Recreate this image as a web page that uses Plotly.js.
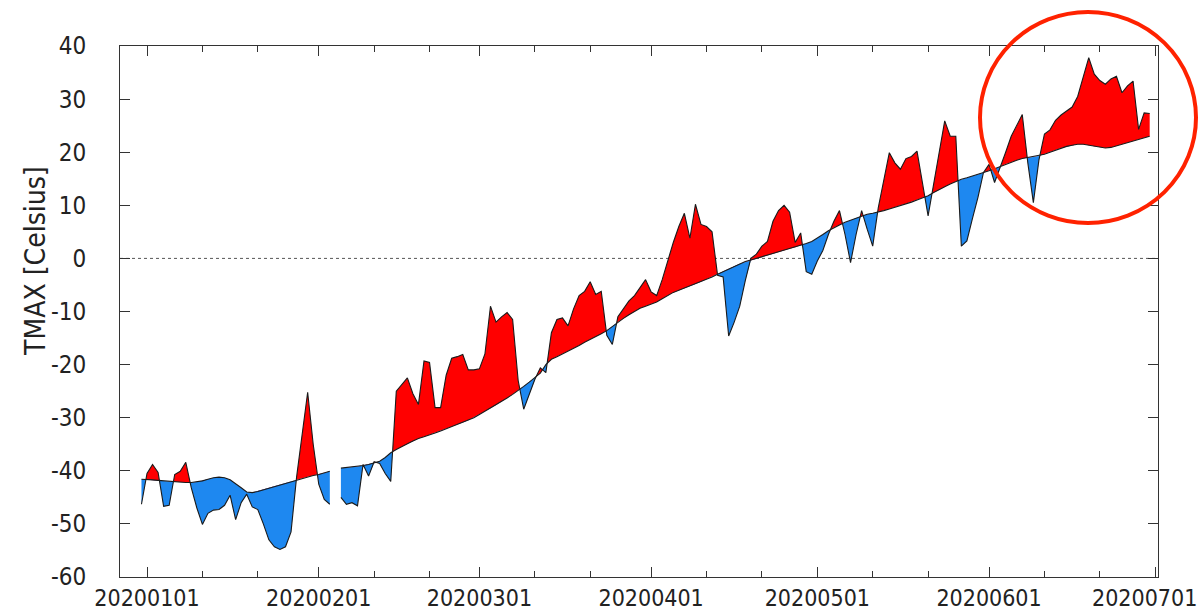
<!DOCTYPE html>
<html>
<head>
<meta charset="utf-8">
<script src="https://cdn.plot.ly/plotly-3.0.1.min.js"></script>
<style>html,body{margin:0;padding:0;background:#fff;}#chart{width:1200px;height:613px;}</style>
</head>
<body>
<div id="chart"></div>
<script>
// First day of the daily series (index 0 = 2019-12-31)
const startDate = '2019-12-31';

// Observed daily TMAX [Celsius], 2019-12-31 .. 2020-06-30 (null = missing)
const observed = [
 -46.3,
 -40.5,-38.8,-40.3,-46.7,-46.5,-40.7,-40.1,-38.4,-43.2,-47.0,
 -50.1,-48.0,-47.4,-47.3,-46.5,-44.6,-49.2,-46.0,-44.4,-46.8,
 -47.3,-50.0,-53.0,-54.3,-54.8,-54.3,-51.5,-41.2,-33.0,-25.2,
 -35.0,-42.5,-45.4,-46.3,null,-45.0,-46.3,-46.0,-46.6,-38.8,
 -41.0,-38.3,-38.6,-40.5,-42.0,-25.0,-23.8,-22.5,-25.5,-27.5,
 -19.3,-19.6,-28.1,-28.1,-22.0,-18.8,-18.5,-18.1,-21.0,-21.0,
 -20.8,-18.0,-9.0,-12.0,-11.0,-10.2,-11.5,-23.0,-28.4,-25.5,
 -22.8,-20.6,-21.5,-14.0,-11.5,-11.2,-12.7,-9.5,-7.0,-6.2,
 -4.4,-6.8,-6.2,-14.5,-16.2,-11.0,-9.5,-8.0,-7.0,-5.5,
 -4.0,-6.3,-7.0,-4.0,-0.5,3.0,6.0,8.5,3.8,10.2,
 6.4,6.0,5.0,-3.2,-3.5,-14.6,-12.0,-9.0,-4.2,0.0,
 0.8,2.3,3.2,7.0,9.0,10.0,8.7,3.0,4.8,-2.5,
 -3.0,-0.5,1.5,4.5,7.0,9.0,4.5,-0.8,4.5,9.0,
 5.5,2.3,9.5,15.0,19.9,18.0,16.8,18.8,19.2,20.2,
 14.0,8.0,14.0,20.0,25.9,23.0,23.0,2.3,3.3,7.5,
 11.5,16.2,17.7,14.3,17.0,20.0,23.0,25.0,27.1,18.0,
 10.5,18.5,23.4,24.2,26.0,27.0,27.7,28.5,30.5,34.0,
 37.8,34.7,33.5,32.8,33.8,34.3,31.2,32.5,33.4,24.3,
 27.4,27.3
];

// Climatological daily TMAX [Celsius], same dates
const climatology = [
 -41.6,
 -41.6,-41.7,-41.8,-41.9,-42.0,-42.1,-42.2,-42.2,-42.2,-42.1,
 -41.9,-41.6,-41.3,-41.2,-41.3,-41.7,-42.4,-43.2,-44.0,-44.1,
 -43.9,-43.6,-43.3,-43.0,-42.7,-42.4,-42.1,-41.7,-41.4,-41.1,
 -40.9,-40.7,-40.4,-40.1,null,-39.5,-39.4,-39.3,-39.2,-39.0,
 -38.8,-38.5,-38.2,-37.5,-36.6,-36.0,-35.4,-34.9,-34.4,-33.9,
 -33.6,-33.3,-32.9,-32.5,-32.1,-31.7,-31.3,-30.9,-30.5,-30.0,
 -29.4,-28.8,-28.2,-27.6,-27.0,-26.3,-25.6,-24.9,-24.1,-23.3,
 -22.5,-21.6,-20.0,-19.0,-18.5,-18.0,-17.4,-16.9,-16.4,-15.8,
 -15.3,-14.7,-14.2,-13.6,-12.8,-12.0,-11.3,-10.6,-10.0,-9.4,
 -9.0,-8.6,-8.2,-7.6,-7.0,-6.4,-6.0,-5.6,-5.2,-4.8,
 -4.4,-4.0,-3.5,-3.0,-2.5,-2.0,-1.5,-1.0,-0.6,-0.3,
 0.0,0.3,0.6,0.9,1.2,1.5,1.8,2.1,2.4,2.8,
 3.2,3.8,4.5,5.2,5.8,6.3,6.8,7.2,7.6,8.0,
 8.3,8.5,8.7,9.0,9.3,9.6,10.0,10.3,10.6,11.0,
 11.4,11.8,12.4,13.0,13.5,14.0,14.5,14.9,15.2,15.5,
 15.8,16.1,16.5,16.9,17.3,17.8,18.2,18.5,18.8,19.0,
 19.1,19.3,19.6,20.0,20.4,20.8,21.1,21.3,21.5,21.5,
 21.3,21.1,20.9,20.8,20.9,21.2,21.5,21.8,22.1,22.4,
 22.7,23.0
];

// Axis ticks
const majorTickDates = ['2020-01-01','2020-02-01','2020-03-01','2020-04-01','2020-05-01','2020-06-01','2020-07-01'];
const majorTickLabels = ['20200101','20200201','20200301','20200401','20200501','20200601','20200701'];
const minorTickDates = ['2020-01-11','2020-01-21','2020-02-11','2020-02-21','2020-03-11','2020-03-21',
                        '2020-04-11','2020-04-21','2020-05-11','2020-05-21','2020-06-11','2020-06-21'];
const yTickVals = [-60,-50,-40,-30,-20,-10,0,10,20,30,40];
const yTickLabels = ['-60','-50','-40','-30','-20','-10','0','10','20','30','40'];
const yTitle = 'TMAX [Celsius]';

// ---- build daily x values (ms) ----
const DAY = 86400000;
const t0 = Date.parse(startDate + 'T00:00:00Z');
const xs = observed.map((_, i) => t0 + i * DAY);

// ---- fill regions between observed and climatology ----
const traces = [];
let run = [];
const runs = [];
for (let i = 0; i < xs.length; i++) {
  if (observed[i] !== null && climatology[i] !== null) {
    run.push({x: xs[i], o: observed[i], c: climatology[i]});
  } else {
    if (run.length > 1) runs.push(run);
    run = [];
  }
}
if (run.length > 1) runs.push(run);

const RED = '#ff0000', BLUE = '#1e88f0';
runs.forEach(r => {
  const pts = [];
  for (let j = 0; j < r.length; j++) {
    pts.push(r[j]);
    if (j < r.length - 1) {
      const a = r[j], b = r[j + 1];
      const d1 = a.o - a.c, d2 = b.o - b.c;
      if (d1 * d2 < 0) {
        const t = d1 / (d1 - d2);
        const cc = a.c + t * (b.c - a.c);
        pts.push({x: a.x + t * (b.x - a.x), o: cc, c: cc});
      }
    }
  }
  const back = pts.slice().reverse();
  [[RED, Math.max], [BLUE, Math.min]].forEach(([col, fn]) => {
    traces.push({
      type: 'scatter', mode: 'lines', fill: 'toself', fillcolor: col,
      line: {width: 0, color: col}, hoverinfo: 'skip', showlegend: false,
      x: pts.map(p => p.x).concat(back.map(p => p.x)),
      y: pts.map(p => fn(p.o, p.c)).concat(back.map(p => p.c))
    });
  });
});

traces.push({
  type: 'scatter', mode: 'lines', x: xs, y: climatology, connectgaps: false,
  line: {color: '#1a1a1a', width: 1.1}, hoverinfo: 'skip', showlegend: false
});
traces.push({
  type: 'scatter', mode: 'lines', x: xs, y: observed, connectgaps: false,
  line: {color: '#1a1a1a', width: 1.1}, hoverinfo: 'skip', showlegend: false
});

// last major label is drawn right-aligned so it stays inside the page
const shownTickLabels = majorTickLabels.map((s, i) => i === majorTickLabels.length - 1 ? '' : s);

const FONT = '"DejaVu Sans Condensed", "Liberation Sans", Arial, sans-serif';
const layout = {
  width: 1200, height: 613,
  margin: {l: 120, r: 42, t: 46, b: 36, pad: 0},
  paper_bgcolor: '#ffffff', plot_bgcolor: '#ffffff',
  showlegend: false,
  font: {family: FONT, color: '#222', size: 24},
  xaxis: {
    type: 'date',
    range: ['2019-12-27 03:00', '2020-07-01 12:00'],
    tickmode: 'array', tickvals: majorTickDates, ticktext: shownTickLabels,
    ticks: 'inside', ticklen: 10, tickwidth: 1, tickcolor: '#333',
    minor: {tickmode: 'array', tickvals: minorTickDates, ticks: 'inside', ticklen: 6, tickwidth: 1, tickcolor: '#333', showgrid: false},
    showline: true, linecolor: '#333', linewidth: 1, mirror: 'allticks',
    showgrid: false, zeroline: false,
    tickfont: {family: FONT, size: 23, color: '#222'},
    ticklabelstandoff: 0,
    ticklabeloverflow: 'allow'
  },
  yaxis: {
    range: [-60, 40],
    tickmode: 'array', tickvals: yTickVals, ticktext: yTickLabels,
    ticks: 'inside', ticklen: 10, tickwidth: 1, tickcolor: '#333',
    showline: true, linecolor: '#333', linewidth: 1, mirror: 'allticks',
    showgrid: false, zeroline: false,
    tickfont: {family: FONT, size: 24, color: '#222'},
    ticklabelstandoff: 28
  },
  shapes: [
    {type: 'line', xref: 'paper', x0: 0, x1: 1, yref: 'y', y0: 0, y1: 0, layer: 'below',
     line: {color: '#555', width: 1, dash: 'dot'}},
    {type: 'circle', xref: 'paper', yref: 'paper', layer: 'above',
     x0: (980 - 120) / 1038, x1: (1196 - 120) / 1038,
     y0: (577 - 223) / 531, y1: (577 - 12) / 531,
     line: {color: '#ff2200', width: 4}}
  ],
  annotations: [
    {text: yTitle, xref: 'paper', yref: 'paper', x: -0.082, y: (577 - 261) / 531,
     xanchor: 'center', yanchor: 'middle', textangle: -90, showarrow: false,
     font: {family: FONT, size: 28, color: '#222'}},
    {text: majorTickLabels[majorTickLabels.length - 1], xref: 'paper', yref: 'paper',
     x: (1199 - 120) / 1038, y: (577 - 598) / 531, xanchor: 'right', yanchor: 'middle',
     showarrow: false, font: {family: FONT, size: 23, color: '#222'}}
  ]
};

Plotly.newPlot('chart', traces, layout, {displayModeBar: false, staticPlot: true});
</script>
</body>
</html>
